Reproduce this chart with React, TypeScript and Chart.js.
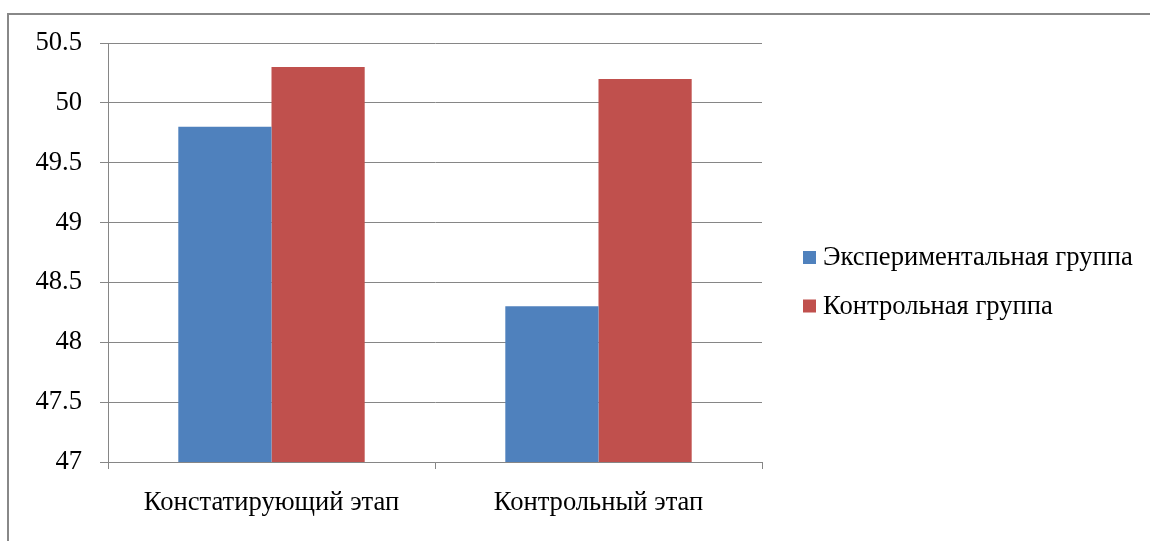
import React, { useEffect, useRef } from "react";
import { Chart, registerables } from "chart.js";

Chart.register(...registerables);

const categories = ["Констатирующий этап", "Контрольный этап"];
const seriesNames = ["Экспериментальная группа", "Контрольная группа"];
const experimentalValues = [49.8, 48.3];
const controlValues = [50.3, 50.2];
const yTickLabels = ["47", "47.5", "48", "48.5", "49", "49.5", "50", "50.5"];

const BLUE = "#4F81BD";
const RED = "#C0504D";
const GRID = "#868686";
const FONT = "\"Liberation Serif\"";
const FONT_SIZE = 26.6;

const legendPlugin = {
  id: "sideLegend",
  afterDraw(chart: any) {
    const ctx = chart.ctx;
    const area = chart.chartArea;
    const x0 = area.right + 41;
    const yStart = 257.5;
    const gap = 48.5;
    ctx.save();
    ctx.font = `${FONT_SIZE}px ${FONT}`;
    ctx.textBaseline = "middle";
    ctx.textAlign = "left";
    chart.data.datasets.forEach((ds: any, i: number) => {
      const cy = yStart + i * gap;
      ctx.fillStyle = ds.backgroundColor;
      ctx.fillRect(x0, cy - 6.5, 13, 13);
      ctx.fillStyle = "#000";
      ctx.fillText(ds.label, x0 + 20, cy + 1);
    });
    ctx.restore();
  },
};

export default function App() {
  const ref = useRef<HTMLCanvasElement | null>(null);

  useEffect(() => {
    if (!ref.current) return;
    const chart = new Chart(ref.current, {
      type: "bar",
      data: {
        labels: categories,
        datasets: [
          {
            label: seriesNames[0],
            data: experimentalValues,
            backgroundColor: BLUE,
            categoryPercentage: 0.57,
            barPercentage: 1,
          },
          {
            label: seriesNames[1],
            data: controlValues,
            backgroundColor: RED,
            categoryPercentage: 0.57,
            barPercentage: 1,
          },
        ],
      },
      options: {
        animation: false,
        responsive: false,
        maintainAspectRatio: false,
        layout: { padding: { top: 43, right: 388, left: 0, bottom: 0 } },
        plugins: {
          legend: { display: false },
          tooltip: { enabled: false },
        },
        scales: {
          x: {
            afterFit: (s: any) => {
              s.height = 79;
            },
            grid: {
              display: true,
              drawOnChartArea: false,
              drawTicks: true,
              tickLength: 7,
              offset: true,
              color: GRID,
            },
            border: { display: true, color: GRID, width: 1 },
            ticks: {
              color: "#000",
              font: { family: FONT, size: FONT_SIZE },
              padding: 18,
              maxRotation: 0,
            },
          },
          y: {
            min: 47,
            max: 50.5,
            afterFit: (s: any) => {
              s.width = 108;
            },
            grid: {
              color: GRID,
              tickLength: 8,
              drawTicks: true,
            },
            border: { display: true, color: GRID, width: 1 },
            ticks: {
              stepSize: 0.5,
              autoSkip: false,
              color: "#000",
              font: { family: FONT, size: FONT_SIZE },
              padding: 18,
              callback: (_v: any, i: number) => yTickLabels[i],
            },
          },
        },
      },
      plugins: [legendPlugin],
    });
    const redraw = () => {
      try {
        chart.update("none");
      } catch (e) {
        /* ignore */
      }
    };
    const fontsApi: any = (document as any).fonts;
    if (fontsApi && fontsApi.ready) fontsApi.ready.then(redraw);
    const t1 = setTimeout(redraw, 50);
    const t2 = setTimeout(redraw, 250);
    return () => {
      clearTimeout(t1);
      clearTimeout(t2);
      chart.destroy();
    };
  }, []);

  return (
    <div
      style={{
        position: "fixed",
        left: 0,
        top: 0,
        width: 1150,
        height: 541,
        overflow: "hidden",
        background: "#fff",
      }}
    >
      <span
        aria-hidden="true"
        style={{
          position: "absolute",
          left: 0,
          top: 0,
          fontFamily: "Liberation Serif",
          fontSize: FONT_SIZE,
          color: "transparent",
          whiteSpace: "nowrap",
        }}
      >
        Кон 50.5
      </span>
      <div
        style={{
          position: "absolute",
          left: 7,
          top: 13,
          width: 1300,
          height: 700,
          borderLeft: "2px solid #888",
          borderTop: "2px solid #888",
        }}
      />
      <canvas
        ref={ref}
        width={1150}
        height={541}
        style={{ position: "absolute", left: 0, top: 0, width: 1150, height: 541 }}
      />
    </div>
  );
}
